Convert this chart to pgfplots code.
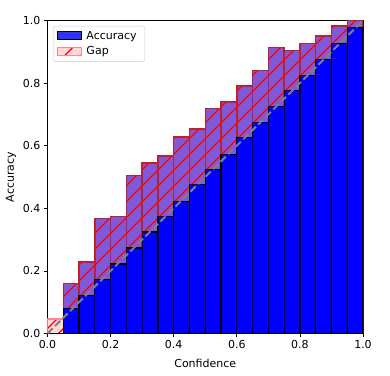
\documentclass[border=0pt]{standalone}
\usepackage{fontspec}
\setmainfont{DejaVu Sans}
\usepackage{pgfplots}
\usepackage{pgfplotstable}
\pgfplotsset{compat=1.18}
\usetikzlibrary{patterns.meta}

\definecolor{gapfill}{rgb}{1,0.7,0.7}
\definecolor{gapedge}{RGB}{195,30,45}
\definecolor{gapedgelight}{RGB}{255,135,135}

% bin centre, accuracy, confidence, lower and upper end of the gap
\pgfplotstableread{
x     acc    conf   lo     hi
0.025 0.000  0.046  0.000  0.046
0.075 0.160  0.080  0.080  0.160
0.125 0.229  0.122  0.122  0.229
0.175 0.368  0.173  0.173  0.368
0.225 0.373  0.222  0.222  0.373
0.275 0.504  0.273  0.273  0.504
0.325 0.545  0.324  0.324  0.545
0.375 0.567  0.373  0.373  0.567
0.425 0.628  0.423  0.423  0.628
0.475 0.653  0.475  0.475  0.653
0.525 0.719  0.524  0.524  0.719
0.575 0.739  0.573  0.573  0.739
0.625 0.791  0.627  0.627  0.791
0.675 0.840  0.675  0.675  0.840
0.725 0.913  0.725  0.725  0.913
0.775 0.905  0.776  0.776  0.905
0.825 0.926  0.825  0.825  0.926
0.875 0.950  0.876  0.876  0.950
0.925 0.983  0.927  0.927  0.983
0.975 1.000  0.978  0.978  1.000
}\bins

\tikzset{
  hatch/.style={postaction={pattern={Lines[angle=45,distance=11.3bp,line width=1.3bp]}, pattern color=red}},
}
\pgfplotsset{
  bars/.style={ybar, bar width=0.05, bar shift=0pt, forget plot},
}

\begin{document}
\begin{tikzpicture}
\path[use as bounding box] (-47.5bp,-42.5bp) rectangle (342.5bp,333.5bp);
\begin{axis}[
    at={(0,0)}, anchor=south west,
    scale only axis, width=315.5bp, height=313bp,
    xmin=0, xmax=1, ymin=0, ymax=1,
    xtick={0,0.2,...,1}, ytick={0,0.2,...,1},
    tick align=outside, tick pos=left,
    major tick length=3.5bp,
    axis line style={line width=0.8bp},
    every tick/.style={black, line width=0.8bp},
    ticklabel style={font=\fontsize{11bp}{13bp}\selectfont},
    /pgf/number format/assume math mode=true,
    xticklabel style={/pgf/number format/.cd, fixed, fixed zerofill, precision=1},
    yticklabel style={/pgf/number format/.cd, fixed, fixed zerofill, precision=1},
    xlabel={Confidence}, ylabel={Accuracy},
    label style={font=\fontsize{11bp}{13bp}\selectfont},
    xlabel style={at={(axis description cs:0.5,-0.095)}, anchor=center},
    ylabel style={at={(axis description cs:-0.116,0.5)}, anchor=center},
    legend style={at={(0,1)}, anchor=north west, xshift=5.5bp, yshift=-5.5bp,
        draw=black!20, rounded corners=2bp, fill=white, fill opacity=0.8, text opacity=1,
        font=\fontsize{11bp}{13bp}\selectfont, inner xsep=3.5bp, inner ysep=3bp,
        row sep=2bp, nodes={inner xsep=4.5bp}},
    legend cell align=left,
    legend image code/.code={\draw[sharp corners, #1] (0bp,-4bp) rectangle (24bp,4bp);},
]
\addlegendimage{fill=blue, draw=black, line width=1bp}
\addlegendentry{Accuracy}
\addlegendimage{fill=gapfill, fill opacity=0.5, draw=gapedgelight, line width=1.3bp, hatch}
\addlegendentry{Gap}

% accuracy bars, then their outlines
\addplot[bars, fill=blue, draw=none] table[x=x, y=acc] {\bins};
\addplot[bars, fill=none, draw=black, line width=1.4bp] table[x=x, y=acc] {\bins};
% gap, from confidence to accuracy (first bin lies over white)
\addplot[bars, fill=gapfill, fill opacity=0.5, draw=gapedge, line width=1.4bp, hatch,
    x filter/.expression={x<0.05 ? nan : x}]
    table[x=x, y=hi] {\bins};
\addplot[bars, fill=gapfill, fill opacity=0.5, draw=gapedgelight, line width=1.4bp, hatch,
    x filter/.expression={x<0.05 ? x : nan}]
    table[x=x, y=hi] {\bins};
% accuracy below the gap, drawn again
\addplot[bars, fill=blue, draw=none] table[x=x, y=lo] {\bins};
\addplot[bars, fill=none, draw=black, line width=1.2bp] table[x=x, y=lo] {\bins};

\addplot[gray, line width=2bp, dash pattern=on 7.4bp off 3.2bp, forget plot] coordinates {(0,0) (1,1)};
\end{axis}
\end{tikzpicture}
\end{document}
